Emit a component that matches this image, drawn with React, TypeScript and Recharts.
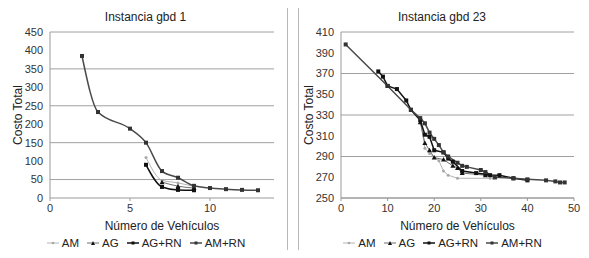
import { LineChart, Line, XAxis, YAxis, CartesianGrid } from 'recharts';

// ---- Instancia gbd 1 ----
const g1Ticks = [0, 5, 10];
const g1YTicks = [0, 50, 100, 150, 200, 250, 300, 350, 400, 450];
const g1AM = [
  { x: 6, y: 110 }, { x: 7, y: 48 }, { x: 8, y: 41 }, { x: 9, y: 31 },
];
const g1AG = [
  { x: 7, y: 43 }, { x: 8, y: 32 }, { x: 9, y: 27 },
];
const g1AGRN = [
  { x: 6, y: 90 }, { x: 7, y: 30 }, { x: 8, y: 22 }, { x: 9, y: 21 },
];
const g1AMRN = [
  { x: 2, y: 385 }, { x: 3, y: 233 }, { x: 5, y: 188 }, { x: 6, y: 150 },
  { x: 7, y: 73 }, { x: 8, y: 55 }, { x: 9, y: 33 }, { x: 10, y: 27 },
  { x: 11, y: 24 }, { x: 12, y: 22 }, { x: 13, y: 21 },
];

// ---- Instancia gbd 23 ----
const g23Ticks = [0, 10, 20, 30, 40, 50];
const g23YTicks = [250, 270, 290, 310, 330, 350, 370, 390, 410];
const g23AM = [
  { x: 17, y: 326 }, { x: 18, y: 298 }, { x: 19, y: 293 }, { x: 21, y: 286 },
  { x: 22, y: 276 }, { x: 23, y: 272 }, { x: 25, y: 269 }, { x: 32, y: 269 },
];
const g23AG = [
  { x: 17, y: 323 }, { x: 18, y: 303 }, { x: 19, y: 296 }, { x: 20, y: 289 },
  { x: 22, y: 287 }, { x: 24, y: 281 }, { x: 25, y: 279 }, { x: 26, y: 274 },
  { x: 31, y: 272 }, { x: 33, y: 270 },
];
const g23AGRN = [
  { x: 8, y: 372 }, { x: 9, y: 367 }, { x: 10, y: 358 }, { x: 12, y: 355 },
  { x: 14, y: 344 }, { x: 15, y: 335 }, { x: 17, y: 325 }, { x: 18, y: 311 },
  { x: 19, y: 309 }, { x: 20, y: 296 }, { x: 22, y: 294 }, { x: 23, y: 288 },
  { x: 24, y: 285 }, { x: 26, y: 276 }, { x: 29, y: 274 }, { x: 31, y: 273 },
  { x: 32, y: 272 }, { x: 34, y: 272 }, { x: 37, y: 269 }, { x: 40, y: 267 },
];
const g23AMRN = [
  { x: 1, y: 398 }, { x: 10, y: 358 }, { x: 15, y: 335 }, { x: 17, y: 327 },
  { x: 18, y: 322 }, { x: 19, y: 313 }, { x: 20, y: 307 }, { x: 21, y: 301 },
  { x: 22, y: 294 }, { x: 23, y: 290 }, { x: 25, y: 284 }, { x: 26, y: 281 },
  { x: 27, y: 280 }, { x: 30, y: 277 }, { x: 31, y: 275 }, { x: 33, y: 270 },
  { x: 37, y: 269 }, { x: 40, y: 268 }, { x: 44, y: 267 }, { x: 46, y: 266 },
  { x: 47, y: 265 }, { x: 48, y: 265 },
];

const seriesNames = ['AM', 'AG', 'AG+RN', 'AM+RN'];
const seriesColors = ['#b4b4b4', '#6e6e6e', '#111111', '#4a4a4a'];

const font = '"Liberation Sans", Arial, sans-serif';

const Square = (color: string, s: number) => (props: any) => {
  const { cx, cy } = props;
  if (cx == null || cy == null) return null;
  return <rect x={cx - s / 2} y={cy - s / 2} width={s} height={s} fill={color} />;
};

const Tri = (color: string) => (props: any) => {
  const { cx, cy } = props;
  if (cx == null || cy == null) return null;
  return <polygon points={`${cx},${cy - 2.5} ${cx + 2.5},${cy + 2} ${cx - 2.5},${cy + 2}`} fill={color} />;
};

const Dot = (color: string) => (props: any) => {
  const { cx, cy } = props;
  if (cx == null || cy == null) return null;
  return <circle cx={cx} cy={cy} r={1.5} fill={color} />;
};

const dots = [Dot('#a8a8a8'), Tri('#111'), Square('#111', 4), Square('#333', 4)];

function LegendRow() {
  return (
    <div style={{ display: 'flex', justifyContent: 'center', gap: 7, fontSize: 11.5, fontFamily: font, color: '#222' }}>
      {seriesNames.map((n, i) => (
        <div key={n} style={{ display: 'flex', alignItems: 'center', gap: 2 }}>
          <svg width={14} height={8}>
            <line x1={1} y1={4} x2={13} y2={4} stroke={seriesColors[i]} strokeWidth={i >= 2 ? 1.5 : 1} />
            {i === 0 && <circle cx={7} cy={4} r={1.3} fill="#a8a8a8" />}
            {i === 1 && <polygon points="7,2 9,6 5,6" fill="#111" />}
            {i >= 2 && <rect x={5.5} y={2.5} width={3} height={3} fill={i === 2 ? '#111' : '#333'} />}
          </svg>
          <span>{n}</span>
        </div>
      ))}
    </div>
  );
}

interface PanelProps {
  left: number;
  width: number;
  title: string;
  xDomain: [number, number];
  xTicks: number[];
  yDomain: [number, number];
  yTicks: number[];
  series: { x: number; y: number }[][];
  curve: 'monotone' | 'linear';
  marginLeft: number;
  marginRight: number;
}

function Panel({ left, width, title, xDomain, xTicks, yDomain, yTicks, series, curve, marginLeft, marginRight }: PanelProps) {
  const h = 249;
  return (
    <div style={{ position: 'absolute', left, top: 4, width, height: h, border: '1px solid #b8b8b8', boxSizing: 'border-box', background: '#fff' }}>
      <div style={{ position: 'absolute', top: 5, width: '100%', textAlign: 'center', fontSize: 12, fontFamily: font, color: '#222' }}>
        {title}
      </div>
      <LineChart width={width - 2} height={h - 2} margin={{ top: 27, right: marginRight, bottom: 20, left: marginLeft }}>
        <CartesianGrid vertical={false} stroke="#a0a0a0" strokeWidth={1} horizontalValues={yTicks} />
        <XAxis
          type="number"
          dataKey="x"
          domain={xDomain}
          ticks={xTicks}
          allowDataOverflow
          height={34}
          stroke="#999"
          tickSize={3}
          tickMargin={3}
          tick={{ fontSize: 11, fill: '#333', fontFamily: font }}
          label={{ value: 'Número de Vehículos', position: 'insideBottom', offset: 2, fontSize: 12, fill: '#222', fontFamily: font }}
        />
        <YAxis
          type="number"
          dataKey="y"
          domain={yDomain}
          ticks={yTicks}
          allowDataOverflow
          width={36}
          stroke="#999"
          tickLine={false}
          tickSize={2}
          tickMargin={5}
          tick={{ fontSize: 11, fill: '#333', fontFamily: font }}
          label={{ value: 'Costo Total', angle: -90, position: 'insideLeft', offset: 4, fontSize: 12, fill: '#222', fontFamily: font, style: { textAnchor: 'middle' } }}
        />
        {series.map((d, i) => (
          <Line
            key={seriesNames[i]}
            data={d}
            dataKey="y"
            type={curve}
            stroke={seriesColors[i]}
            strokeWidth={i >= 2 ? 1.5 : 1}
            dot={dots[i]}
            activeDot={false}
            isAnimationActive={false}
          />
        ))}
      </LineChart>
      <div style={{ position: 'absolute', top: 232, width: '100%' }}>
        <LegendRow />
      </div>
    </div>
  );
}

export default function App() {
  return (
    <div style={{ position: 'relative', width: 589, height: 258, margin: -8, background: '#fff' }}>
      <Panel
        left={3}
        width={285}
        title="Instancia gbd 1"
        xDomain={[0, 14]}
        xTicks={g1Ticks}
        yDomain={[0, 450]}
        yTicks={g1YTicks}
        series={[g1AM, g1AG, g1AGRN, g1AMRN]}
        curve="monotone"
        marginLeft={10}
        marginRight={13}
      />
      <Panel
        left={298}
        width={288}
        title="Instancia gbd 23"
        xDomain={[0, 50]}
        xTicks={g23Ticks}
        yDomain={[250, 410]}
        yTicks={g23YTicks}
        series={[g23AM, g23AG, g23AGRN, g23AMRN]}
        curve="linear"
        marginLeft={6}
        marginRight={11}
      />
    </div>
  );
}
